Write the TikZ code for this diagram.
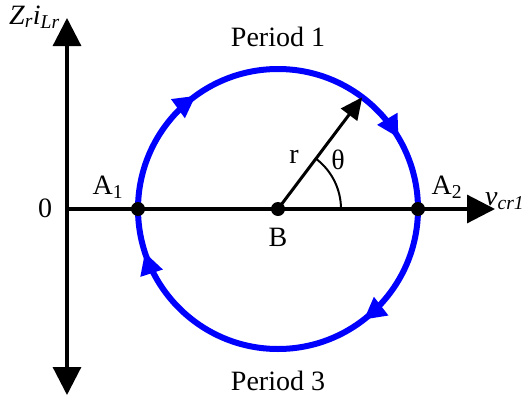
\documentclass[tikz,border=0pt]{standalone}
\usepackage{fontspec}
\setmainfont{Liberation Serif}
\usetikzlibrary{arrows.meta,decorations.markings}
\begin{document}
\begin{tikzpicture}[x=1pt,y=-1pt,font=\fontsize{28}{32}\selectfont,
  axisline/.style={line width=3.2pt,draw=black},
  bigtip/.style={-{Triangle[length=28pt,width=28pt]}},
  blueline/.style={draw=blue,line width=6pt},
  dot/.style={fill=black},
  lbl/.style={inner sep=0pt}]
\useasboundingbox (0,0) rectangle (525,402);
\coordinate (B) at (278,209);
\coordinate (O) at (67,209);
\coordinate (A1) at (138,209);
\coordinate (A2) at (418,209);
\coordinate (Ytop) at (67,18);
\coordinate (Ybot) at (67,395);
\coordinate (Xend) at (495,209);
\path (B) ++(-53:140) coordinate (P);
% circle
\draw[blueline,postaction=decorate,decoration={markings,
  mark=at position 0.15 with {\arrow{Triangle[length=22pt,width=22pt]}},
  mark=at position 0.415 with {\arrow{Triangle[length=22pt,width=22pt]}},
  mark=at position 0.645 with {\arrow{Triangle[length=22pt,width=22pt]}},
  mark=at position 0.95 with {\arrow{Triangle[length=22pt,width=22pt]}}}]
  (A1) arc[start angle=180,end angle=540,radius=140];
% axes
\draw[axisline,{Triangle[length=28pt,width=28pt]}-{Triangle[length=28pt,width=28pt]}] (Ybot) -- (Ytop);
\draw[axisline,bigtip] (O) -- (Xend);
% radius
\draw[line width=3pt,-{Triangle[length=22pt,width=20pt]}] (B) -- (P);
\draw[line width=2pt] (B) ++(63,0) arc[start angle=0,end angle=-53,radius=63];
% dots
\fill[dot] (A1) circle (7);
\fill[dot] (A2) circle (7);
\fill[dot] (B) circle (7);
% labels
\node[lbl] (l0) at (45,208) {0};
\node[lbl] (lA1) at (108,187) {A\textsubscript{1}};
\node[lbl] (lA2) at (447,187) {A\textsubscript{2}};
\node[lbl] (lB) at (278,237) {B};
\node[lbl] (lr) at (294,157) {r};
\node[lbl] (lth) at (338,160) {θ};
\node[lbl,anchor=west] (lv) at (485,201) {\itshape v\textsubscript{cr1}};
\node[lbl,anchor=west] (lz) at (9,17) {\itshape Z\textsubscript{r}i\textsubscript{Lr}};
\node[lbl] (p1) at (278,37) {Period 1};
\node[lbl] (p3) at (278,381) {Period 3};
\end{tikzpicture}
\end{document}
